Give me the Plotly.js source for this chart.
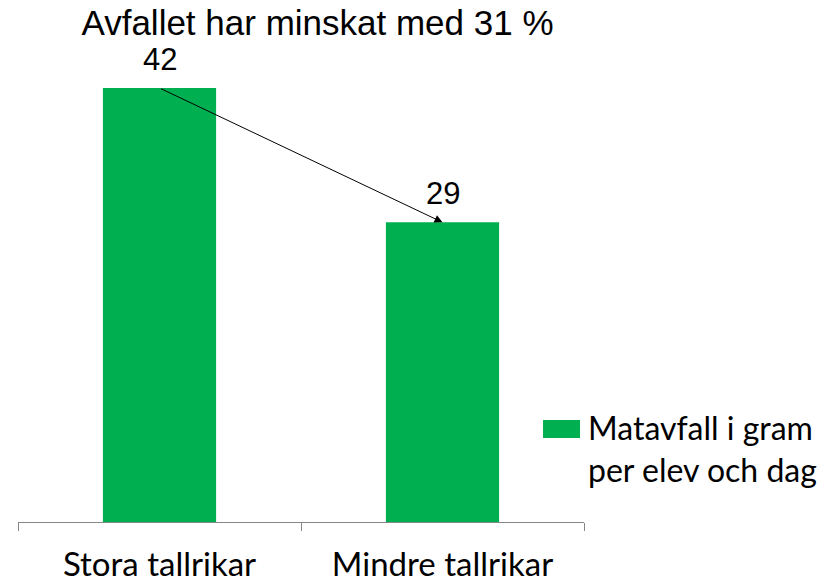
<!DOCTYPE html>
<html>
<head>
<meta charset="utf-8">
<script src="https://cdn.plot.ly/plotly-3.0.1.min.js"></script>
<style>html,body{margin:0;padding:0;background:#fff;}#chart{width:829px;height:582px;}</style>
</head>
<body>
<div id="chart"></div>
<script>
const categories = ["Stora tallrikar", "Mindre tallrikar"];
const values = [42, 29];
const seriesName = "Matavfall i gram<br>per elev och dag";
const chartTitle = "Avfallet har minskat med 31 %";

const green = "#00B050";

const trace = {
  type: "bar",
  x: categories,
  y: values,
  name: seriesName,
  marker: {color: green},
  showlegend: false,
  hoverinfo: "x+y"
};

const labelAnns = categories.map((c, i) => ({
  x: c, y: values[i], xref: "x", yref: "y",
  text: String(values[i]), showarrow: false,
  yanchor: "bottom", yshift: 9,
  font: {family: "Liberation Sans, Arial, sans-serif", size: 31, color: "#000"}
}));

const arrowAnn = {
  x: 1, y: values[1], xref: "x", yref: "y",
  ax: 0, ay: values[0], axref: "x", ayref: "y",
  text: "", showarrow: true, arrowhead: 2, arrowsize: 1.6, arrowwidth: 1,
  arrowcolor: "#000", standoff: 0, startstandoff: 0
};

const legendAnn = {
  xref: "paper", yref: "paper", x: 1.003, y: 0.158,
  xanchor: "left", yanchor: "middle", align: "left",
  text: seriesName, showarrow: false,
  font: {family: "Lato, sans-serif", size: 32, color: "#000"}
};

const layout = {
  width: 829, height: 582,
  margin: {l: 18, r: 245, t: 57, b: 60},
  paper_bgcolor: "#fff", plot_bgcolor: "#fff",
  title: {
    text: chartTitle, x: 0.383, xref: "container", y: 0.9605, yref: "container",
    xanchor: "center", yanchor: "middle",
    font: {family: "Liberation Sans, Arial, sans-serif", size: 35, color: "#000"}
  },
  bargap: 0.6,
  xaxis: {
    type: "category", showline: true, linecolor: "#868686", linewidth: 1,
    ticks: "outside", tickson: "boundaries", ticklen: 8, tickcolor: "#868686", tickwidth: 1,
    ticklabelstandoff: 13,
    showgrid: false, zeroline: false,
    tickfont: {family: "Lato, sans-serif", size: 33, color: "#000"},
    fixedrange: true
  },
  yaxis: {range: [0, 45], visible: false, showgrid: false, zeroline: false, fixedrange: true},
  annotations: [...labelAnns, arrowAnn, legendAnn],
  shapes: [{
    type: "rect", xref: "paper", yref: "paper",
    x0: 0.9276, x1: 0.993, y0: 0.1806, y1: 0.2194,
    fillcolor: green, line: {width: 0}
  }],
  showlegend: false
};

Plotly.newPlot("chart", [trace], layout, {displayModeBar: false, staticPlot: true});
</script>
</body>
</html>
